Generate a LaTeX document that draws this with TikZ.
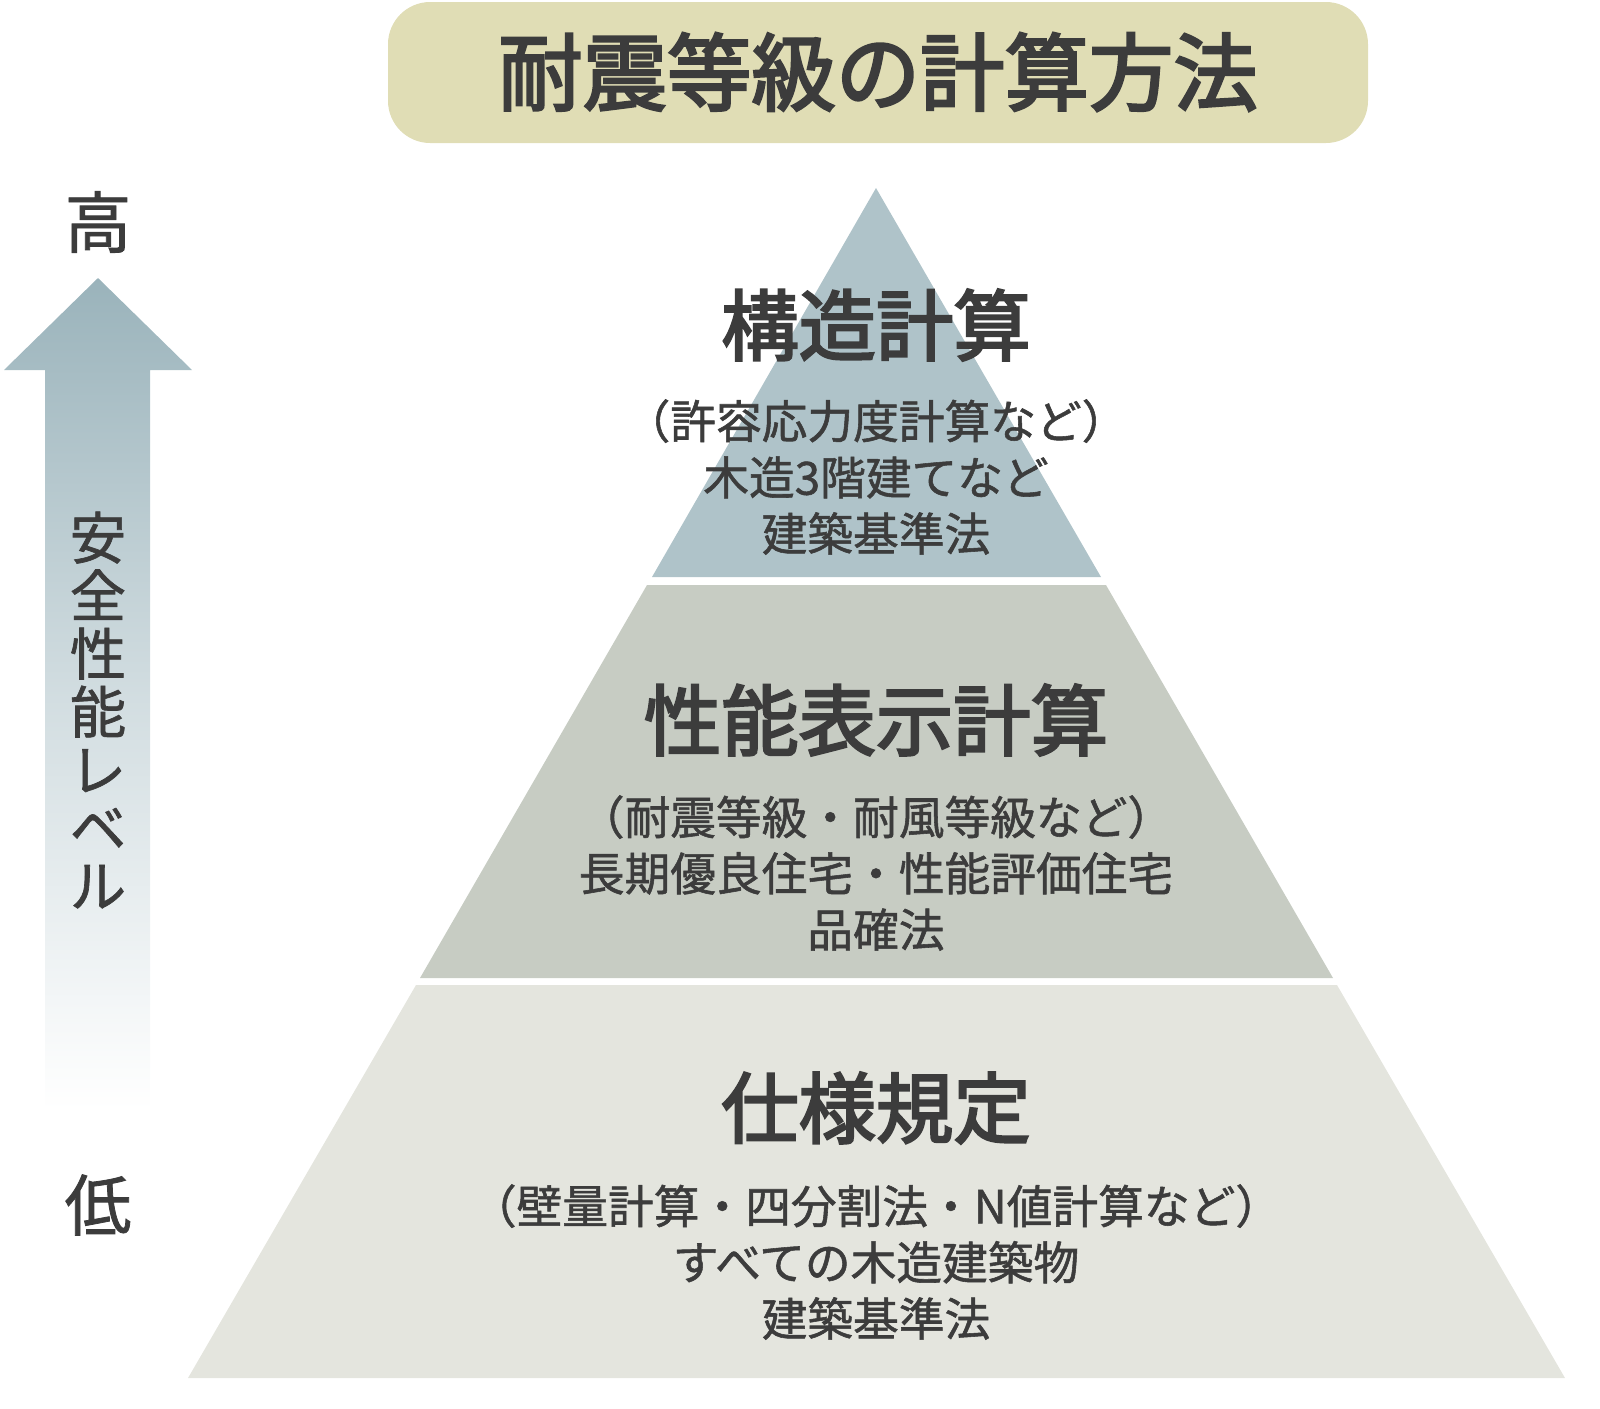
\documentclass[tikz,border=0pt]{standalone}
\usepackage{fontspec}
\usepackage{tikz}
\usetikzlibrary{positioning}
\newfontfamily\jpfont[FakeBold=1.2]{Noto Sans CJK JP}
\newfontfamily\jphead[FakeBold=3]{Noto Sans CJK JP}
\definecolor{titlebg}{HTML}{E0DDB5}
\definecolor{tiertop}{HTML}{AFC3C9}
\definecolor{tiermid}{HTML}{C7CCC3}
\definecolor{tierlow}{HTML}{E4E5DE}
\definecolor{arrowtop}{HTML}{9AB3BB}
\definecolor{inkgray}{HTML}{3C3C3C}

\begin{document}
\begin{tikzpicture}[x=0.01cm,y=-0.01cm,
    font=\jpfont, text=inkgray,
    heading/.style={font=\jphead\fontsize{22}{26}\selectfont},
    subtext/.style={font=\jpfont\fontsize{13}{16}\selectfont, align=center},
    levelmark/.style={font=\jpfont\fontsize{19}{22}\selectfont}]
        \useasboundingbox (0,0) rectangle (1600,1408);
        % title
        \fill[titlebg, rounded corners=12] (388,2) rectangle (1368,143);
        \node[font=\jphead\fontsize{24}{28}\selectfont] (title) at (878,72) {耐震等級の計算方法};
        % pyramid tiers
        \fill[tiertop] (876,188) -- (1101,577) -- (652,577) -- cycle;
        \fill[tiermid] (647,585) -- (1106,585) -- (1333,978) -- (420,978) -- cycle;
        \fill[tierlow] (416,985) -- (1337,985) -- (1565,1378) -- (188,1378) -- cycle;
        % level arrow
        \shade[top color=arrowtop, bottom color=white, middle color=arrowtop!45]
            (98,278) -- (192,370) -- (150,370) -- (150,1110) -- (45,1110) -- (45,370) -- (4,370) -- cycle;
        \node[levelmark] (high) at (98,222) {高};
        \node[levelmark] (low) at (98,1205) {低};
        \node[font=\jpfont\fontsize{16}{16.5}\selectfont, align=center] (level) at (98,710)
            {安\\全\\性\\能\\レ\\ベ\\ル};
        % top tier
        \node[heading] (struct) at (876,325) {構造計算};
        \node[subtext] (structsub) at (876,477) {（許容応力度計算など）\\木造3階建てなど\\建築基準法};
        % middle tier
        \node[heading] (perf) at (876,720) {性能表示計算};
        \node[subtext] (perfsub) at (876,873) {（耐震等級・耐風等級など）\\長期優良住宅・性能評価住宅\\品確法};
        % bottom tier
        \node[heading] (spec) at (876,1108) {仕様規定};
        \node[subtext] (specsub) at (876,1262) {（壁量計算・四分割法・N値計算など）\\すべての木造建築物\\建築基準法};
\end{tikzpicture}
\end{document}
